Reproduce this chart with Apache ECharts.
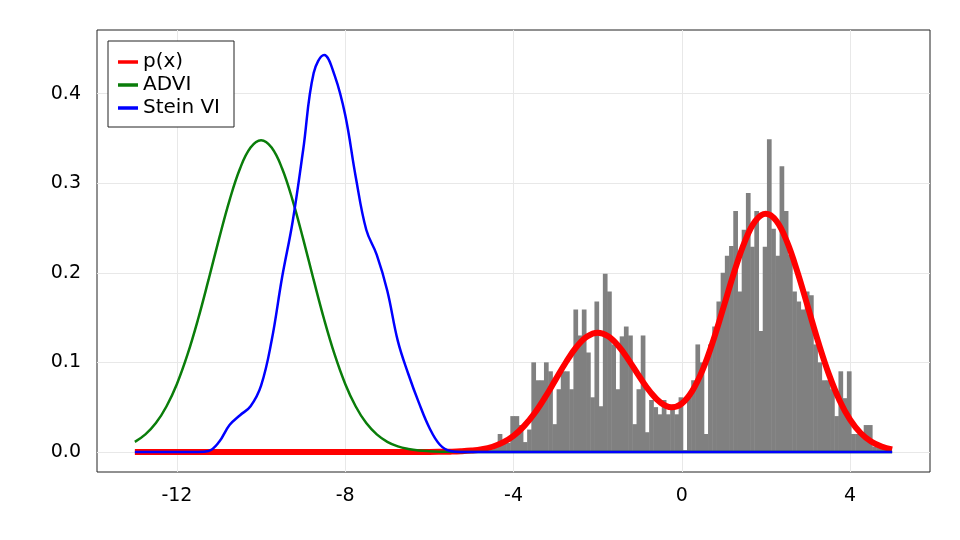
<!DOCTYPE html>
<html>
<head>
<meta charset="utf-8">
<script src="https://cdn.jsdelivr.net/npm/echarts@6.0.0/dist/echarts.min.js"></script>
<style>
  html, body { margin: 0; padding: 0; background: #fff; }
  #main { width: 960px; height: 540px; }
</style>
</head>
<body>
<div id="main"></div>
<script>
// histogram of samples: density per bin, bins of equal width
var histStart = -4.676;
var histWidth = 0.1;
var histDensity = [
  0.004, 0.003, 0.005, 0.02, 0.01, 0.01, 0.04, 0.04, 0.03, 0.011,
  0.025, 0.10, 0.08, 0.08, 0.10, 0.09, 0.031, 0.07, 0.09, 0.09,
  0.07, 0.159, 0.13, 0.159, 0.111, 0.061, 0.168, 0.051, 0.199, 0.179,
  0.12, 0.07, 0.129, 0.14, 0.13, 0.031, 0.07, 0.13, 0.022, 0.058,
  0.05, 0.042, 0.058, 0.042, 0.05, 0.042, 0.061, 0.002, 0.061, 0.08,
  0.12, 0.10, 0.02, 0.12, 0.14, 0.168, 0.20, 0.219, 0.23, 0.269,
  0.179, 0.248, 0.289, 0.229, 0.269, 0.135, 0.229, 0.349, 0.249, 0.219,
  0.319, 0.269, 0.22, 0.179, 0.168, 0.159, 0.179, 0.175, 0.12, 0.10,
  0.08, 0.08, 0.07, 0.04, 0.09, 0.06, 0.09, 0.02, 0.02, 0.02,
  0.03, 0.03, 0.006, 0.005, 0.004, 0.003
];

// x grid shared by the three curves
var xs = [
  -13, -12.75, -12.5, -12.25, -12, -11.75, -11.5, -11.25, -11, -10.75,
  -10.5, -10.25, -10, -9.75, -9.5, -9.25, -9, -8.75, -8.5, -8.25,
  -8, -7.75, -7.5, -7.25, -7, -6.75, -6.5, -6.25, -6, -5.75,
  -5.5, -5.25, -5, -4.75, -4.5, -4.25, -4, -3.75, -3.5, -3.25,
  -3, -2.75, -2.5, -2.25, -2, -1.75, -1.5, -1.25, -1, -0.75,
  -0.5, -0.25, 0, 0.25, 0.5, 0.75, 1, 1.25, 1.5, 1.75,
  2, 2.25, 2.5, 2.75, 3, 3.25, 3.5, 3.75, 4, 4.25,
  4.5, 4.75, 5
];

var pTarget = [
  0, 0, 0, 0, 0, 0, 0, 0, 0, 0,
  0, 0, 0, 0, 0, 0, 0, 0, 0, 0,
  0, 0, 0, 0, 0, 0, 0, 0, 0, 0.0001,
  0.0003, 0.0007, 0.0015, 0.0030, 0.0058, 0.0106, 0.0180, 0.0288, 0.0432, 0.0609,
  0.0807, 0.1004, 0.1174, 0.1289, 0.1331, 0.1291, 0.1180, 0.1017, 0.0836, 0.0670,
  0.0549, 0.0499, 0.0540, 0.0681, 0.0921, 0.1247, 0.1628, 0.2014, 0.2350, 0.2579,
  0.2659, 0.2578, 0.2347, 0.2007, 0.1613, 0.1217, 0.0863, 0.0575, 0.0360, 0.0211,
  0.0117, 0.0061, 0.0029
];

var advi = [
  0.0113, 0.0196, 0.0322, 0.0507, 0.0759, 0.1085, 0.1478, 0.1920, 0.2378, 0.2809,
  0.3164, 0.3398, 0.3480, 0.3398, 0.3164, 0.2809, 0.2378, 0.1920, 0.1478, 0.1085,
  0.0759, 0.0507, 0.0322, 0.0196, 0.0113, 0.0062, 0.0033, 0.0016, 0.0008, 0.0003,
  0.0001, 0, 0, 0, 0, 0, 0, 0, 0, 0,
  0, 0, 0, 0, 0, 0, 0, 0, 0, 0,
  0, 0, 0, 0, 0, 0, 0, 0, 0, 0,
  0, 0, 0, 0, 0, 0, 0, 0, 0, 0,
  0, 0, 0
];

var steinVI = [
  0, 0, 0, 0, 0, 0, 0, 0.001, 0.011, 0.030,
  0.041, 0.051, 0.074, 0.124, 0.195, 0.257, 0.337, 0.423, 0.443, 0.420,
  0.376, 0.307, 0.248, 0.220, 0.180, 0.124, 0.087, 0.055, 0.027, 0.008,
  0.001, 0, 0, 0, 0, 0, 0, 0, 0, 0,
  0, 0, 0, 0, 0, 0, 0, 0, 0, 0,
  0, 0, 0, 0, 0, 0, 0, 0, 0, 0,
  0, 0, 0, 0, 0, 0, 0, 0, 0, 0,
  0, 0, 0
];

var xTicks = [-12, -8, -4, 0, 4];
var yTicks = [0, 0.1, 0.2, 0.3, 0.4];
var seriesNames = ['p(x)', 'ADVI', 'Stein VI'];

function pairs(ys) {
  return xs.map(function (x, i) { return [x, ys[i]]; });
}

var histData = histDensity.map(function (d, i) {
  var x0 = histStart + i * histWidth;
  return [x0, x0 + histWidth, d];
});

var font = '"DejaVu Sans", sans-serif';
var chart = echarts.init(document.getElementById('main'));

chart.setOption({
  animation: false,
  backgroundColor: '#fff',
  textStyle: { fontFamily: font },
  grid: {
    left: 97, right: 30, top: 30, bottom: 68,
    show: true, borderColor: '#222', borderWidth: 1, backgroundColor: 'transparent'
  },
  legend: {
    orient: 'vertical',
    left: 108, top: 41,
    padding: [11, 14, 9, 10],
    itemGap: 3,
    itemWidth: 20,
    itemHeight: 3.5,
    borderColor: '#222',
    borderWidth: 1,
    backgroundColor: '#fff',
    textStyle: { fontFamily: font, fontSize: 20, color: '#000', lineHeight: 20 },
    data: seriesNames.map(function (n) { return { name: n, icon: 'rect' }; })
  },
  xAxis: {
    type: 'value',
    min: -13.9, max: 5.9,
    axisLine: { show: false },
    axisTick: { show: false, customValues: xTicks },
    axisLabel: {
      customValues: xTicks, fontSize: 19, color: '#000', margin: 15, fontFamily: font
    },
    splitLine: { show: true, lineStyle: { color: '#e8e8e8', width: 1 } }
  },
  yAxis: {
    type: 'value',
    min: -0.0224, max: 0.471,
    axisLine: { show: false },
    axisTick: { show: false, customValues: yTicks },
    axisLabel: {
      customValues: yTicks, fontSize: 19, color: '#000', margin: 16, fontFamily: font,
      formatter: function (v) { return v.toFixed(1); }
    },
    splitLine: { show: true, lineStyle: { color: '#e8e8e8', width: 1 } }
  },
  series: [
    {
      type: 'custom',
      name: 'samples',
      data: histData,
      encode: { x: [0, 1], y: 2 },
      clip: true,
      renderItem: function (params, api) {
        var top = api.coord([api.value(0), api.value(2)]);
        var bot = api.coord([api.value(1), 0]);
        return {
          type: 'rect',
          shape: { x: top[0], y: top[1], width: bot[0] - top[0] + 0.5, height: bot[1] - top[1] },
          style: { fill: '#808080' }
        };
      },
      z: 1
    },
    {
      type: 'line', name: seriesNames[0], data: pairs(pTarget),
      smooth: 0.4, symbol: 'none', color: '#ff0000',
      lineStyle: { width: 6, color: '#ff0000' }, z: 2
    },
    {
      type: 'line', name: seriesNames[1], data: pairs(advi),
      smooth: 0.4, symbol: 'none', color: '#0a7d0a',
      lineStyle: { width: 2.5, color: '#0a7d0a' }, z: 3
    },
    {
      type: 'line', name: seriesNames[2], data: pairs(steinVI),
      smooth: 0.4, symbol: 'none', color: '#0000ff',
      lineStyle: { width: 2.5, color: '#0000ff' }, z: 4
    }
  ]
});

window.onresize = function () {
  chart.resize();
};
</script>
</body>
</html>
